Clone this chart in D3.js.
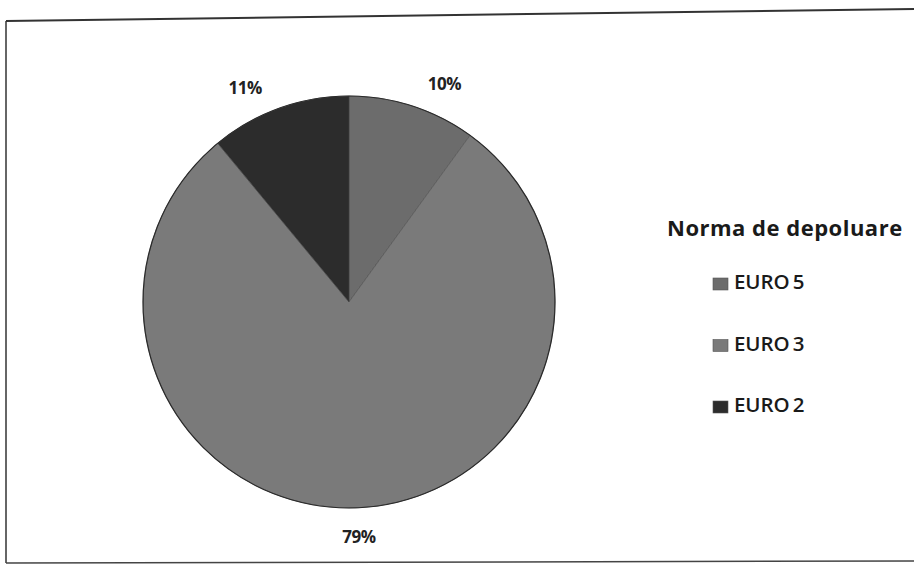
<!DOCTYPE html>
<html><head><meta charset="utf-8">
<script src="https://cdn.jsdelivr.net/npm/d3@7"></script>
<style>body{margin:0;background:#fff}svg{display:block}</style>
</head><body>
<script>
const categories = ["EURO 5", "EURO 3", "EURO 2"];
const values = [10, 79, 11];
const labels = ["10%", "79%", "11%"];
const colors = ["#6c6c6c", "#7a7a7a", "#2c2c2c"];
const legendTitle = "Norma de depoluare";

const W = 914, H = 571;
const svg = d3.select("body").append("svg").attr("width", W).attr("height", H);

// frame (slightly skewed scan)
svg.append("path").attr("d", "M6,21 L914,9").attr("stroke", "#333").attr("stroke-width", 2).attr("fill", "none");
svg.append("path").attr("d", "M6,21 L6,563").attr("stroke", "#333").attr("stroke-width", 1.5).attr("fill", "none");
svg.append("path").attr("d", "M6,563 L914,561").attr("stroke", "#444").attr("stroke-width", 1.5).attr("fill", "none");

const cx = 349, cy = 302, r = 206;
const data = categories.map((c, i) => ({c, v: values[i], l: labels[i], col: colors[i]}));
const pie = d3.pie().value(d => d.v).sort(null);
const arc = d3.arc().innerRadius(0).outerRadius(r);
const g = svg.append("g").attr("transform", `translate(${cx},${cy})`);
const arcs = pie(data);
g.selectAll("path.slice").data(arcs).join("path").attr("class", "slice")
  .attr("d", arc).attr("fill", d => d.data.col)
  .attr("stroke", "#444").attr("stroke-width", 0.5);
g.append("circle").attr("r", r).attr("fill", "none").attr("stroke", "#2a2a2a").attr("stroke-width", 1.2);

// outside-end labels, nudged away from the top like Excel's best fit
const lr = r + 31;
g.selectAll("text").data(arcs).join("text")
  .attr("transform", d => {
    const mid = (d.startAngle + d.endAngle) / 2;
    const a = mid + 0.17 * Math.sin(2 * mid);
    return `translate(${lr * Math.sin(a)},${-lr * Math.cos(a)})`;
  })
  .attr("text-anchor", "middle").attr("dominant-baseline", "middle")
  .attr("font-family", "'Open Sans', sans-serif").attr("font-weight", "bold")
  .attr("font-size", 17).attr("fill", "#222").attr("letter-spacing", -0.5)
  .text(d => d.data.l);

// legend
const lg = svg.append("g");
lg.append("text").attr("x", 667).attr("y", 236)
  .attr("font-family", "'Open Sans', sans-serif").attr("font-weight", "bold")
  .attr("font-size", 22).attr("fill", "#1a1a1a").attr("letter-spacing", 0.5)
  .text(legendTitle);
const ly = d3.scalePoint().domain(categories).range([284, 407]);
const items = lg.selectAll("g.item").data(data).join("g").attr("class", "item")
  .attr("transform", d => `translate(713,${ly(d.c)})`);
items.append("rect").attr("x", 0).attr("y", -6).attr("width", 15).attr("height", 12)
  .attr("fill", d => d.col).attr("stroke", "#555").attr("stroke-width", 0.6);
items.append("text").attr("x", 21).attr("y", 0).attr("dominant-baseline", "middle")
  .attr("font-family", "'Open Sans', sans-serif").attr("font-weight", 600).attr("font-size", 20.5).attr("fill", "#1a1a1a")
  .attr("letter-spacing", -0.1)
  .text(d => d.c.replace(" ", "\u2009"));
</script>
</body></html>
